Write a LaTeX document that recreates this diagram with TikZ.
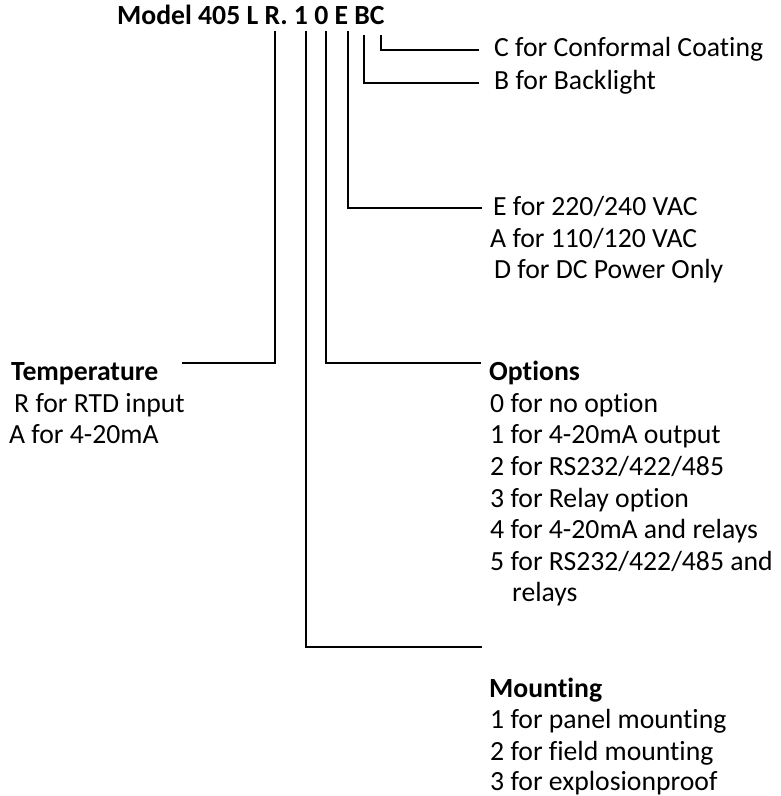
\documentclass[tikz,border=0pt]{standalone}
\usepackage{fontspec}
\setmainfont{Carlito}[Ligatures=NoCommon]
\begin{document}
\begin{tikzpicture}[x=1pt,y=-1pt,
  lbl/.style={anchor=base west, inner sep=0pt, font=\fontsize{27.7}{33}\selectfont},
  hdr/.style={anchor=base west, inner sep=0pt, font=\fontsize{27.7}{33}\selectfont\bfseries},
  conn/.style={line width=2.2pt, line join=miter, line cap=rect}]
\useasboundingbox (0,0) rectangle (780,796);
% title
\node[hdr] (title) at (117,24) {Model 405 L R. 1 0 E BC};
% connector coordinates
\coordinate (tR) at (275,32);  \coordinate (eR) at (183,363);
\coordinate (t1) at (306,32);  \coordinate (e1) at (481,647);
\coordinate (t0) at (326,32);  \coordinate (e0) at (480,363);
\coordinate (tE) at (348,32);  \coordinate (eE) at (481,208);
\coordinate (tB) at (364,36);  \coordinate (eB) at (478,83);
\coordinate (tC) at (381,36);  \coordinate (eC) at (478,50);
\draw[conn] (tR) |- (eR);
\draw[conn] (t1) |- (e1);
\draw[conn] (t0) |- (e0);
\draw[conn] (tE) |- (eE);
\draw[conn] (tB) |- (eB);
\draw[conn] (tC) |- (eC);
% right labels
\node[lbl] (lC) at (494,56) {C for Conformal Coating};
\node[lbl] (lB) at (494,89) {B for Backlight};
\node[lbl] (lE) at (493,215) {E for 220/240 VAC};
\node[lbl] (lA) at (490,247) {A for 110/120 VAC};
\node[lbl] (lD) at (494,278) {D for DC Power Only};
% temperature
\node[hdr] (temp) at (11,380) {Temperature};
\node[lbl] (t1l) at (14,412) {R for RTD input};
\node[lbl] (t2l) at (9,443) {A for 4-20mA};
% options
\node[hdr] (opt) at (489,380) {Options};
\node[lbl] (o0) at (490,412) {0 for no option};
\node[lbl] (o1) at (490,443) {1 for 4-20mA output};
\node[lbl] (o2) at (490,475) {2 for RS232/422/485};
\node[lbl] (o3) at (490,507) {3 for Relay option};
\node[lbl] (o4) at (490,538) {4 for 4-20mA and relays};
\node[lbl] (o5) at (490,570) {5 for RS232/422/485 and};
\node[lbl] (o5b) at (512,601) {relays};
% mounting
\node[hdr] (mnt) at (489,697) {Mounting};
\node[lbl] (m1) at (490,728) {1 for panel mounting};
\node[lbl] (m2) at (490,760) {2 for field mounting};
\node[lbl] (m3) at (490,790) {3 for explosionproof};
\end{tikzpicture}
\end{document}
